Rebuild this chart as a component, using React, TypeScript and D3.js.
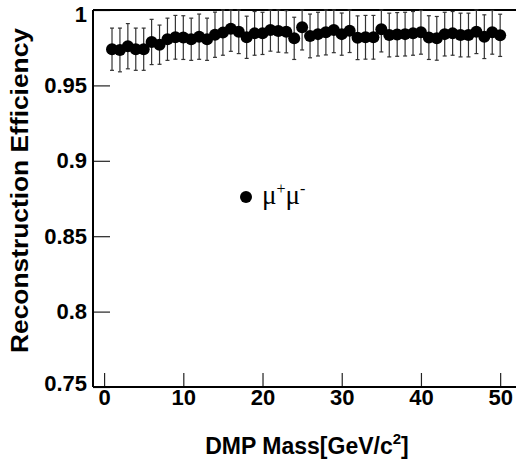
import React, { useEffect, useRef } from "react";
import { select, scaleLinear, axisLeft, axisBottom } from "d3";

// DMP mass points (GeV/c^2)
const masses = [
  1, 2, 3, 4, 5, 6, 7, 8, 9, 10, 11, 12, 13, 14, 15, 16, 17, 18, 19, 20, 21,
  22, 23, 24, 25, 26, 27, 28, 29, 30, 31, 32, 33, 34, 35, 36, 37, 38, 39, 40,
  41, 42, 43, 44, 45, 46, 47, 48, 49, 50,
];

// reconstruction efficiency, mu+ mu-
const efficiency = [
  0.974, 0.9735, 0.976, 0.974, 0.974, 0.9788, 0.977, 0.9806, 0.9819, 0.9817,
  0.9806, 0.9823, 0.9806, 0.9836, 0.985, 0.9876, 0.9856, 0.9819, 0.9845,
  0.9845, 0.9867, 0.986, 0.9856, 0.9812, 0.9885, 0.9828, 0.984, 0.9852,
  0.9867, 0.984, 0.9863, 0.9816, 0.9819, 0.9819, 0.9872, 0.9834, 0.9838,
  0.984, 0.9845, 0.9852, 0.9817, 0.9812, 0.984, 0.9845, 0.9834, 0.9834,
  0.9856, 0.9823, 0.9852, 0.9832,
];

const errors = [
  0.014, 0.0145, 0.015, 0.014, 0.014, 0.015, 0.013, 0.014, 0.0145, 0.0145,
  0.014, 0.015, 0.014, 0.015, 0.015, 0.015, 0.0145, 0.014, 0.0145, 0.014,
  0.014, 0.014, 0.014, 0.014, 0.015, 0.0145, 0.0145, 0.015, 0.015, 0.014,
  0.0145, 0.0145, 0.0145, 0.0145, 0.015, 0.0145, 0.0145, 0.0145, 0.0145,
  0.0145, 0.0145, 0.0145, 0.0145, 0.0145, 0.0145, 0.0145, 0.0145, 0.0145,
  0.0145, 0.014,
];

const xTicks = [0, 10, 20, 30, 40, 50];
const yTicks = [0.75, 0.8, 0.85, 0.9, 0.95, 1];
const yTickLabels = ["0.75", "0.8", "0.85", "0.9", "0.95", "1"];

const W = 516;
const H = 461;
const left = 93;
const top = 10;
const bottom = 387;

const x = scaleLinear().domain([-1.4, 52]).range([left, W]);
const y = scaleLinear().domain([0.75, 1]).range([bottom, top]);

const font = "'Liberation Sans', Arial, sans-serif";

const App = () => {
  const svgRef = useRef<SVGSVGElement>(null);

  useEffect(() => {
    const svg = select(svgRef.current);

    const yAxis = axisLeft(y)
      .tickValues(yTicks)
      .tickFormat((d, i) => yTickLabels[i])
      .tickSize(-17)
      .tickSizeOuter(0)
      .tickPadding(6);
    const gy = svg.select(".y-axis").attr("transform", `translate(${left},0)`);
    gy.call(yAxis as any);
    gy.select(".domain").remove();
    gy.selectAll("line").attr("stroke", "#222").attr("stroke-width", 1.2);
    gy.selectAll("text")
      .style("font", `bold 22px ${font}`)
      .attr("fill", "#000");
    // keep the top label inside the canvas, bottom one a bit raised
    gy.selectAll("text")
      .filter((d: any) => d === 1)
      .attr("dy", "0.5em");
    gy.selectAll("text")
      .filter((d: any) => d === 0.75)
      .attr("dy", "0.15em");

    const xAxis = axisBottom(x)
      .tickValues(xTicks)
      .tickSize(-14)
      .tickSizeOuter(0)
      .tickPadding(2);
    const gx = svg.select(".x-axis").attr("transform", `translate(0,${bottom})`);
    gx.call(xAxis as any);
    gx.select(".domain").remove();
    gx.selectAll("line").attr("stroke", "#222").attr("stroke-width", 1.2);
    gx.selectAll("text")
      .style("font", `bold 22px ${font}`)
      .attr("fill", "#000");
  }, []);

  const pts = masses.map((m, i) => ({ m, v: efficiency[i], e: errors[i] }));

  return (
    <svg
      ref={svgRef}
      width={W}
      height={H}
      style={{ position: "absolute", left: 0, top: 0, background: "#fff" }}
    >
      <g className="y-axis" />
      <g className="x-axis" />
      {/* frame */}
      <line x1={left} x2={W} y1={top} y2={top} stroke="#000" strokeWidth={2} />
      <line x1={left} x2={W} y1={bottom} y2={bottom} stroke="#000" strokeWidth={2} />
      <line x1={left} x2={left} y1={top} y2={bottom} stroke="#000" strokeWidth={2} />

      <g className="errors" stroke="#333" strokeWidth={1.2}>
        {pts.map((p) => {
          const y1 = y(Math.min(p.v + p.e, 1));
          const y0 = y(p.v - p.e);
          const cx = x(p.m);
          return (
            <g key={p.m}>
              <line x1={cx} x2={cx} y1={y1} y2={y0} />
              <line x1={cx - 2} x2={cx + 2} y1={y1} y2={y1} />
              <line x1={cx - 2} x2={cx + 2} y1={y0} y2={y0} />
            </g>
          );
        })}
      </g>
      <g className="points">
        {pts.map((p) => (
          <circle key={p.m} cx={x(p.m)} cy={y(p.v)} r={6} fill="#000" />
        ))}
      </g>

      {/* legend */}
      <circle cx={246} cy={197} r={6} fill="#000" />
      <text
        x={262}
        y={204}
        style={{ font: "27px 'Liberation Serif', 'Times New Roman', serif" }}
      >
        μ<tspan dy={-10} fontSize={16}>+</tspan>
        <tspan dy={10}>μ</tspan>
        <tspan dy={-10} fontSize={16}>-</tspan>
      </text>

      <text
        transform={`translate(28,${(top + bottom) / 2 - 8}) rotate(-90)`}
        textAnchor="middle"
        textLength={325}
        lengthAdjust="spacingAndGlyphs"
        style={{ font: `bold 23px ${font}` }}
      >
        Reconstruction Efficiency
      </text>
      <text
        x={307}
        y={454}
        textAnchor="middle"
        style={{ font: `bold 23px ${font}` }}
      >
        DMP Mass[GeV/c<tspan dy={-10} fontSize={15}>2</tspan>
        <tspan dy={10}>]</tspan>
      </text>
    </svg>
  );
};

export default App;
